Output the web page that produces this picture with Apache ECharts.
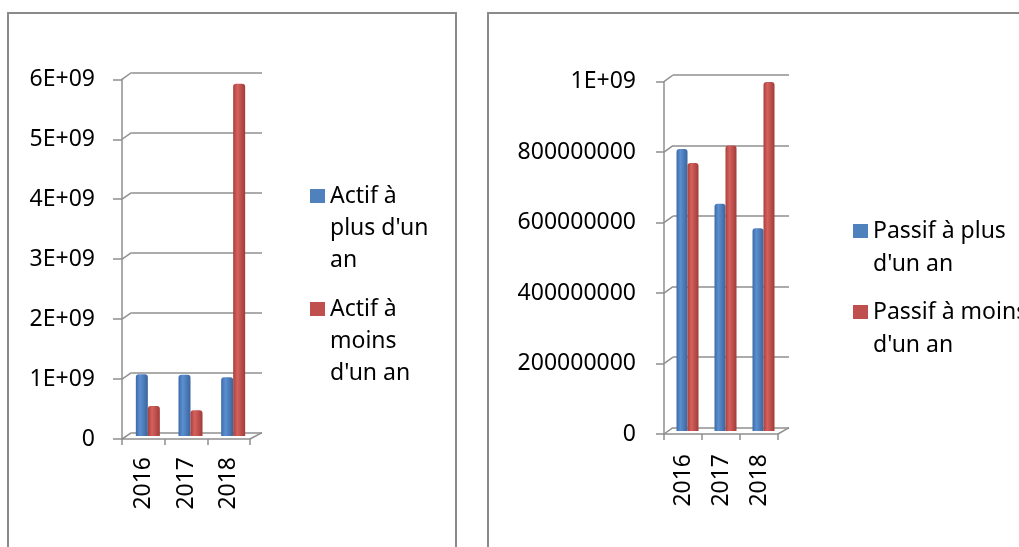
<!DOCTYPE html>
<html>
<head>
<meta charset="utf-8">
<script src="https://cdn.jsdelivr.net/npm/echarts@6.0.0/dist/echarts.min.js"></script>
<style>
html,body{margin:0;padding:0;background:#fff;}
#chart{width:1019px;height:547px;}
</style>
</head>
<body>
<div id="chart"></div>
<script>
// données
var years = ['2016', '2017', '2018'];
var actifPlus = [1.03e9, 1.02e9, 0.98e9];
var actifMoins = [0.50e9, 0.43e9, 5.87e9];
var passifPlus = [0.80e9, 0.645e9, 0.575e9];
var passifMoins = [0.76e9, 0.81e9, 0.99e9];
var leftTicks = ['0', '1E+09', '2E+09', '3E+09', '4E+09', '5E+09', '6E+09'];
var rightTicks = ['0', '200000000', '400000000', '600000000', '800000000', '1E+09'];
var leftNames = ["Actif à plus d'un an", "Actif à moins d'un an"];
var rightNames = ["Passif à plus d'un an", "Passif à moins d'un an"];
// texte de légende coupé comme dans Excel
var legendText = {
  "Actif à plus d'un an": "\n\nActif à\nplus d'un\nan",
  "Actif à moins d'un an": "\n\nActif à\nmoins\nd'un an",
  "Passif à plus d'un an": "\nPassif à plus\nd'un an",
  "Passif à moins d'un an": "\nPassif à moins\nd'un an"
};

var FONT = '"Noto Sans", "Open Sans", sans-serif';
var FS = 23;
var GRID_COLOR = '#8f8f8f';
var BLUE = '#4f81bd', RED = '#c0504d';

var myChart = echarts.init(document.getElementById('chart'));

// front / back / bars grids for each chart
var L = {
  front: {left: 122, top: 79.3, width: 128, height: 359.7},
  back: {left: 131.5, top: 72.5, width: 130.5, height: 360.2},
  bars: {left: 126.5, top: 76, width: 128, height: 360}
};
var R = {
  front: {left: 664, top: 81.7, width: 114, height: 352.3},
  back: {left: 673, top: 75, width: 116, height: 352.7},
  bars: {left: 668.5, top: 78.5, width: 114, height: 352.5}
};

function g(r) {
  return {left: r.left, top: r.top, width: r.width, height: r.height, containLabel: false, outerBoundsMode: 'none'};
}

function cyl(dark, light, dark2) {
  return new echarts.graphic.LinearGradient(0, 0, 1, 0, [
    {offset: 0, color: dark},
    {offset: 0.35, color: light},
    {offset: 1, color: dark2}
  ]);
}
var blueCyl = cyl('#3c6aa6', '#5c8fd1', '#3a659c');
var redCyl = cyl('#a83f3c', '#d5615e', '#a23b38');

function frontY(max, interval, labels, margin, tickLen) {
  return {
    type: 'value', min: 0, max: max, interval: interval,
    axisLine: {show: true, lineStyle: {color: GRID_COLOR, width: 1.5}},
    axisTick: {show: true, length: tickLen, lineStyle: {color: GRID_COLOR, width: 1.5}},
    axisLabel: {
      margin: margin, color: '#000', fontSize: FS, fontFamily: FONT,
      formatter: function (v, i) { return labels[Math.round(v / interval)]; }
    },
    splitLine: {show: false}
  };
}
function backY(max, interval, gi) {
  return {
    type: 'value', min: 0, max: max, interval: interval, gridIndex: gi,
    axisLine: {show: false}, axisTick: {show: false}, axisLabel: {show: false},
    splitLine: {show: true, lineStyle: {color: GRID_COLOR, width: 1.5}}
  };
}
function hiddenY(max, gi) {
  return {type: 'value', min: 0, max: max, gridIndex: gi, show: false, splitLine: {show: false}};
}
function frontX(gi, margin) {
  return {
    type: 'category', data: years, gridIndex: gi, boundaryGap: true,
    axisLine: {show: true, lineStyle: {color: GRID_COLOR, width: 1.5}},
    axisTick: {show: true, length: 6, interval: 0, lineStyle: {color: GRID_COLOR, width: 1.5}},
    axisLabel: {rotate: 90, margin: margin, interval: 0, color: '#000', fontSize: FS, fontFamily: FONT}
  };
}
function hiddenX(gi) {
  return {type: 'category', data: years, gridIndex: gi, show: false};
}

// couleur unie pour la légende, dégradé "cylindre" sur chaque barre
function barSeries(name, data, color, grad, xi, w) {
  return {
    name: name, type: 'bar', xAxisIndex: xi, yAxisIndex: xi,
    data: data.map(function (v) { return {value: v, itemStyle: {color: grad}}; }),
    barWidth: w, barGap: '0%',
    itemStyle: {color: color, borderRadius: [3, 3, 0, 0]},
    emphasis: {disabled: true}
  };
}

var option = {
  animation: false,
  backgroundColor: '#fff',
  grid: [g(L.front), g(L.back), g(L.bars), g(R.front), g(R.back), g(R.bars)],
  xAxis: [
    frontX(0, 18), hiddenX(1), hiddenX(2),
    frontX(3, 20), hiddenX(4), hiddenX(5)
  ],
  yAxis: [
    Object.assign(frontY(6e9, 1e9, leftTicks, 27, 9), {gridIndex: 0}),
    backY(6e9, 1e9, 1),
    hiddenY(6e9, 2),
    Object.assign(frontY(1e9, 2e8, rightTicks, 28, 8), {gridIndex: 3}),
    backY(1e9, 2e8, 4),
    hiddenY(1e9, 5)
  ],
  legend: [
    {
      data: leftNames, orient: 'vertical', left: 310, top: 116, padding: 0,
      itemWidth: 15, itemHeight: 14, itemGap: -47, icon: 'rect',
      selectedMode: false,
      formatter: function (n) { return legendText[n]; },
      textStyle: {fontSize: FS, lineHeight: 32, color: '#000', fontFamily: FONT}
    },
    {
      data: rightNames, orient: 'vertical', left: 853, top: 181.5, padding: 0,
      itemWidth: 15, itemHeight: 14, itemGap: -18, icon: 'rect',
      selectedMode: false,
      formatter: function (n) { return legendText[n]; },
      textStyle: {fontSize: FS, lineHeight: 33, color: '#000', fontFamily: FONT}
    }
  ],
  series: [
    barSeries(leftNames[0], actifPlus, BLUE, blueCyl, 2, 12),
    barSeries(leftNames[1], actifMoins, RED, redCyl, 2, 12),
    barSeries(rightNames[0], passifPlus, BLUE, blueCyl, 5, 11),
    barSeries(rightNames[1], passifMoins, RED, redCyl, 5, 11)
  ],
  graphic: [
    {type: 'rect', shape: {x: 8, y: 13, width: 448, height: 600}, style: {fill: null, stroke: '#8a8a8a', lineWidth: 2}, silent: true},
    {type: 'rect', shape: {x: 488, y: 13, width: 600, height: 600}, style: {fill: null, stroke: '#8a8a8a', lineWidth: 2}, silent: true}
  ]
};
myChart.setOption(option);

// petits traits obliques entre l'axe avant et la paroi du fond
function connectors(box, fy, by, max, interval) {
  var out = [];
  for (var v = 0; v <= max + 1; v += interval) {
    var y1 = myChart.convertToPixel({yAxisIndex: fy}, v);
    var y2 = myChart.convertToPixel({yAxisIndex: by}, v);
    out.push({type: 'line', silent: true, z: 1,
      shape: {x1: box.front.left, y1: y1, x2: box.back.left, y2: y2},
      style: {stroke: GRID_COLOR, lineWidth: 1.5}});
  }
  var y0f = myChart.convertToPixel({yAxisIndex: fy}, 0);
  var y0b = myChart.convertToPixel({yAxisIndex: by}, 0);
  out.push({type: 'line', silent: true, z: 1,
    shape: {x1: box.front.left + box.front.width, y1: y0f, x2: box.back.left + box.back.width, y2: y0b},
    style: {stroke: GRID_COLOR, lineWidth: 1.5}});
  return out;
}
var extra = option.graphic.concat(connectors(L, 0, 1, 6e9, 1e9), connectors(R, 3, 4, 1e9, 2e8));
myChart.setOption({graphic: extra});
</script>
</body>
</html>
